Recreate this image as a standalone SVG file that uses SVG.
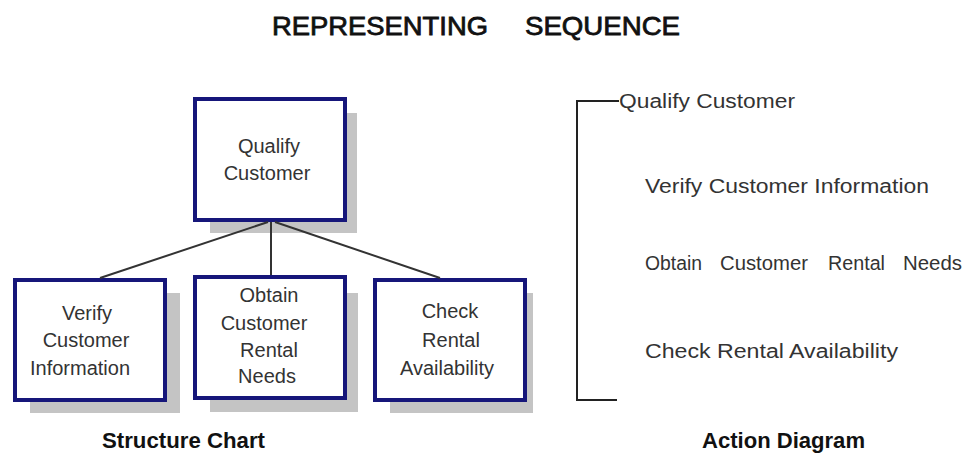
<svg xmlns="http://www.w3.org/2000/svg" width="974" height="453" viewBox="0 0 974 453">
  <style>
    .title { font-family: "Liberation Sans", Arial, sans-serif; font-size: 26px; fill: #111; stroke: #111; stroke-width: 0.8; }
    .caption { font-family: "Liberation Sans", Arial, sans-serif; font-size: 22px; font-weight: bold; fill: #111; }
    .shadow { fill: #c4c4c4; }
    .box { fill: #ffffff; stroke: #16167a; stroke-width: 4; }
    .label { font-family: "Liberation Sans", Arial, sans-serif; font-size: 20px; fill: #333; text-anchor: middle; }
    .step { font-family: "Liberation Sans", Arial, sans-serif; font-size: 20px; fill: #333; }
    .link { stroke: #333; stroke-width: 2; fill: none; }
    .bracket { stroke: #222; stroke-width: 2; fill: none; }
  </style>
  <rect width="974" height="453" fill="#ffffff"/>

  <text class="title" y="35"><tspan x="272" textLength="216" lengthAdjust="spacingAndGlyphs">REPRESENTING</tspan><tspan x="525" textLength="155" lengthAdjust="spacingAndGlyphs">SEQUENCE</tspan></text>

  <g id="qualify">
    <rect class="shadow" x="210" y="113" width="147" height="120"/>
    <rect class="box" x="195" y="99" width="150" height="121"/>
    <text class="label" x="269" y="153">Qualify</text>
    <text class="label" x="267" y="180">Customer</text>
  </g>

  <g id="verify">
    <rect class="shadow" x="30" y="293" width="150" height="120"/>
    <rect class="box" x="15" y="280" width="150" height="120"/>
    <text class="label" x="87" y="320">Verify</text>
    <text class="label" x="86" y="347">Customer</text>
    <text class="label" x="80" y="375">Information</text>
  </g>

  <g id="obtain">
    <rect class="shadow" x="210" y="293" width="148" height="119"/>
    <rect class="box" x="195" y="277" width="150" height="121"/>
    <text class="label" x="269" y="302">Obtain</text>
    <text class="label" x="264" y="330">Customer</text>
    <text class="label" x="269" y="357">Rental</text>
    <text class="label" x="267" y="383">Needs</text>
  </g>

  <g id="check">
    <rect class="shadow" x="390" y="293" width="143" height="120"/>
    <rect class="box" x="375" y="280" width="150" height="120"/>
    <text class="label" x="450" y="318">Check</text>
    <text class="label" x="451" y="347">Rental</text>
    <text class="label" x="447" y="375">Availability</text>
  </g>

  <!-- structure chart connectors, drawn over the parent's shadow -->
  <g id="connectors">
    <line class="link" x1="268" y1="222" x2="100" y2="278"/>
    <line class="link" x1="271" y1="222" x2="271" y2="275"/>
    <line class="link" x1="275" y1="222" x2="440" y2="278"/>
  </g>

  <!-- action diagram -->
  <g id="action">
    <path class="bracket" d="M619 101 H577 V400 H617"/>
    <text class="step" x="619" y="108" textLength="176" lengthAdjust="spacingAndGlyphs">Qualify Customer</text>
    <text class="step" x="645" y="193" textLength="284" lengthAdjust="spacingAndGlyphs">Verify Customer Information</text>
    <text class="step" y="270"><tspan x="645" textLength="57" lengthAdjust="spacingAndGlyphs">Obtain</tspan><tspan x="720" textLength="88" lengthAdjust="spacingAndGlyphs">Customer</tspan><tspan x="828" textLength="57" lengthAdjust="spacingAndGlyphs">Rental</tspan><tspan x="903" textLength="59" lengthAdjust="spacingAndGlyphs">Needs</tspan></text>
    <text class="step" x="645" y="358" textLength="253" lengthAdjust="spacingAndGlyphs">Check Rental Availability</text>
  </g>

  <text class="caption" x="102" y="448" textLength="163" lengthAdjust="spacingAndGlyphs">Structure Chart</text>
  <text class="caption" x="702" y="448" textLength="163" lengthAdjust="spacingAndGlyphs">Action Diagram</text>
</svg>
